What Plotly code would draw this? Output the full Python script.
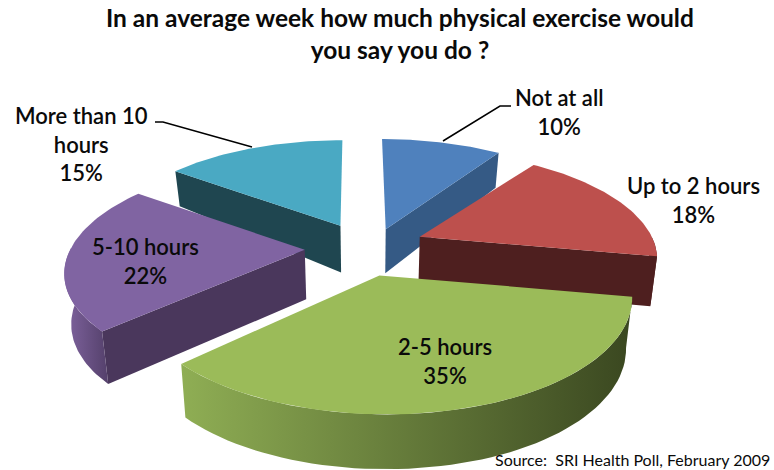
import numpy as np
import plotly.graph_objects as go

# ---- data ----
categories = ["Not at all", "Up to 2 hours", "2-5 hours", "5-10 hours", "More than 10 hours"]
values = [10, 18, 35, 22, 15]
label_texts = ["Not at all<br>10%", "Up to 2 hours<br>18%", "2-5 hours<br>35%",
               "5-10 hours<br>22%", "More than 10<br>hours<br>15%"]
title_text = "In an average week how much physical exercise would<br>you say you do ?"
source_text = "Source:  SRI Health Poll, February 2009"

# ---- style ----
top_colors = ["#4f81bd", "#bd504d", "#9bbb59", "#8064a2", "#4aa9c3"]
wall_colors = ["#355a85", "#4e1f1f", "#4a5c2a", "#4a375c", "#1f4650"]
rim_scales = [["#355a85", "#355a85"], ["#4e1f1f", "#4e1f1f"], ["#8fae54", "#3a4720"],
              ["#80649f", "#54406b"], ["#1f4650", "#1f4650"]]
label_xy = [(559, 111.5), (693, 200), (445, 361), (145, 261), (81, 143.5)]
draw_order = [0, 4, 1, 3, 2]
slice_shift = [(2, 0), (0, 0), (0, -1), (4, 1), (2, 0)]
apex_shift = [(1, 8), (-2, 0), (-3, 1), (0, 0), (2, 3)]
CX, CY = 364, 247
AX, BY, PERSP, EXPLODE = 234, 104.6, 0.173, 0.27


def project(X, Y):
    w = 1 + PERSP * Y
    return CX + AX * X / w, CY - BY * Y / w


def wall_depth(Y):
    return np.interp(Y, [-1.3, -0.1, 0.26, 0.83, 1.06], [55, 50, 48, 35, 35])


def top_pt(X, Y):
    return project(np.asarray(X, float), np.asarray(Y, float))


def bottom_pt(X, Y):
    X = np.asarray(X, float)
    Y = np.asarray(Y, float)
    x, y = project(X, Y)
    return CX + (x - CX) * 0.977, y + wall_depth(Y)


def add_poly(fig, x, y, color=None, scale=None):
    kw = dict(x=list(x), y=list(y), mode="lines", fill="toself",
              line=dict(width=0), hoverinfo="skip", showlegend=False)
    if scale:
        kw["fillgradient"] = dict(type="horizontal",
                                  colorscale=[[0, scale[0]], [1, scale[1]]])
    else:
        kw["fillcolor"] = color
    fig.add_trace(go.Scatter(**kw))


fig = go.Figure()
total = sum(values)
edges = np.concatenate([[0], np.cumsum(values)]) / total * 2 * np.pi

for i in draw_order:
    a0, a1 = edges[i], edges[i + 1]
    mid = (a0 + a1) / 2
    ox, oy = EXPLODE * np.sin(mid), EXPLODE * np.cos(mid)
    th = np.linspace(a0, a1, 60)
    rx, ry = ox + np.sin(th), oy + np.cos(th)
    sx, sy = slice_shift[i]
    apx, apy = apex_shift[i]

    # apex on the top and bottom faces
    ax, ay = top_pt(ox, oy)
    ax, ay = ax + sx + apx, ay + sy + apy
    abx, aby = bottom_pt(ox, oy)
    abx, aby = abx + sx + apx, aby + sy + apy / 2

    # radial cut walls that face the viewer
    for a, normal in ((a0, a0 - np.pi / 2), (a1, a1 + np.pi / 2)):
        if np.cos(normal) < -1e-6:
            ex, ey = ox + np.sin(a), oy + np.cos(a)
            tx, ty = top_pt(ex, ey)
            bx, by = bottom_pt(ex, ey)
            add_poly(fig, [ax, tx + sx, bx + sx, abx, ax],
                     [ay, ty + sy, by + sy, aby, ay], wall_colors[i])

    # outer rim, only where it faces the viewer
    mask = np.cos(th) < 0.02
    if mask.sum() > 1:
        tx, ty = top_pt(rx[mask], ry[mask])
        bx, by = bottom_pt(rx[mask], ry[mask])
        add_poly(fig, np.r_[tx, bx[::-1], tx[0]] + sx, np.r_[ty, by[::-1], ty[0]] + sy,
                 scale=rim_scales[i])

    # top face
    tx, ty = top_pt(rx, ry)
    add_poly(fig, np.r_[ax, tx + sx, ax], np.r_[ay, ty + sy, ay], top_colors[i])

# leader lines
fig.add_trace(go.Scatter(x=[443, 500, 511], y=[141, 106, 106], mode="lines",
                         line=dict(color="black", width=1.5), hoverinfo="skip", showlegend=False))
fig.add_trace(go.Scatter(x=[252, 163, 155], y=[147, 122, 122], mode="lines",
                         line=dict(color="black", width=1.5), hoverinfo="skip", showlegend=False))

FONT = "Lato, Carlito, sans-serif"
for txt, (lx, ly) in zip(label_texts, label_xy):
    fig.add_annotation(x=lx, y=ly, xref="x", yref="y", text=txt, showarrow=False,
                       align="center", font=dict(family=FONT, size=22, color="#0a0a0a", weight=600))
fig.add_annotation(x=400, y=33.5, xref="x", yref="y", text=title_text, showarrow=False,
                   align="center", font=dict(family=FONT, size=24.5, color="#0a0a0a", weight=700))
fig.add_annotation(x=632, y=459, xref="x", yref="y", text=source_text, showarrow=False,
                   align="center", font=dict(family=FONT, size=16, color="#0a0a0a"))

fig.update_layout(
    width=774, height=470, margin=dict(l=0, r=0, t=0, b=0),
    paper_bgcolor="white", plot_bgcolor="white", showlegend=False,
    xaxis=dict(range=[0, 774], visible=False, fixedrange=True),
    yaxis=dict(range=[470, 0], visible=False, fixedrange=True),
)
fig.write_html("out.html", config={"displayModeBar": False},
               post_script="document.body.style.margin='0';document.documentElement.style.overflow='hidden';")
